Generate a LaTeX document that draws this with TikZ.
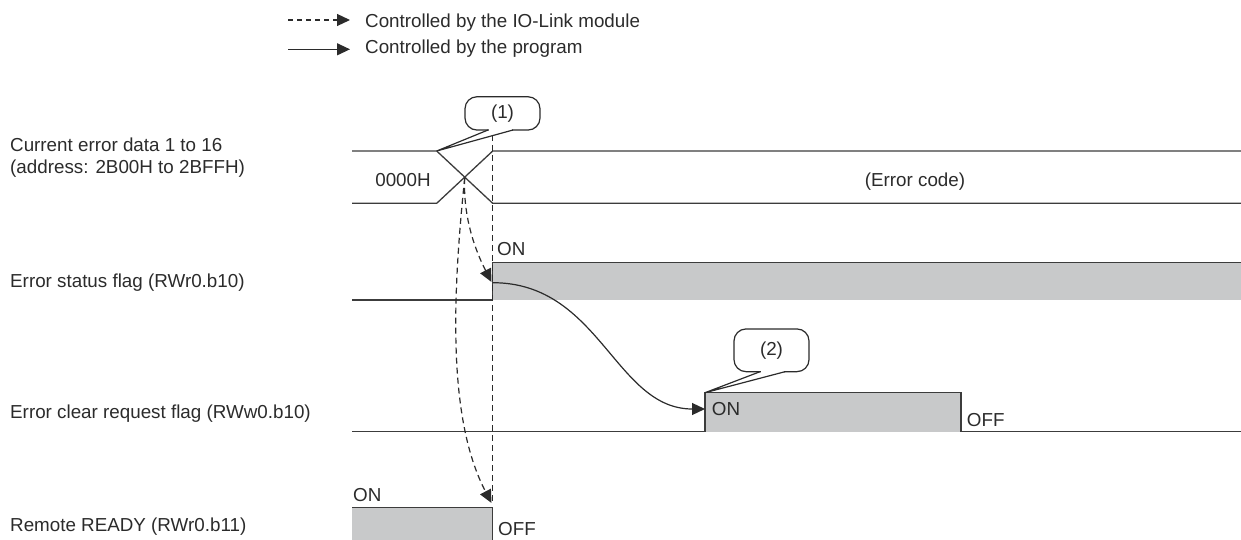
\documentclass[tikz,border=0pt]{standalone}
\usepackage{fontspec}
\setmainfont{Liberation Sans}
\usetikzlibrary{arrows.meta}
\definecolor{ink}{HTML}{2B2B2B}
\definecolor{lineink}{HTML}{3C3C3C}
\definecolor{hifill}{HTML}{C8C9CA}
\begin{document}
\begin{tikzpicture}[x=1pt,y=-1pt,
  txt/.style={font=\fontsize{18.8}{21.7}\selectfont, text=ink, inner sep=0pt},
  sig/.style={line width=1.3pt, draw=lineink},
  hi/.style={fill=hifill},
  tip/.style={-{Triangle[length=13pt,width=12pt]}},
  ctrl/.style={tip, draw=ink, dash pattern=on 6pt off 4pt, line width=1.2pt},
  prog/.style={tip, draw=ink, line width=1.2pt},
  refline/.style={draw=ink, dash pattern=on 6pt off 4pt, line width=1.2pt},
  callout/.style={draw=ink, line width=1.2pt, fill=white, rounded corners=12pt, inner sep=0pt, font=\fontsize{18.8}{21.7}\selectfont, text=ink}
]
\useasboundingbox (0,0) rectangle (1241,540);

% legend
\coordinate (l1a) at (288,20);
\coordinate (l1b) at (350,20);
\coordinate (l2a) at (288,49.3);
\coordinate (l2b) at (350,49.3);
\draw[ctrl, dash pattern=on 5pt off 4pt] (l1a) -- (l1b);
\draw[prog] (l2a) -- (l2b);
\node[txt, anchor=base west] (leg1) at (365,27.3) {Controlled by the IO-Link module};
\node[txt, anchor=base west] (leg2) at (365,54) {Controlled by the program};

% signal labels
\node[txt, anchor=base west, align=left] (lab1) at (10,173.3) {Current error data 1 to 16\\(address: 2B00H to 2BFFH)};
\node[txt, anchor=base west] (lab2) at (10,287.7) {Error status flag (RWr0.b10)};
\node[txt, anchor=base west] (lab3) at (10,418.3) {Error clear request flag (RWw0.b10)};
\node[txt, anchor=base west] (lab4) at (10,531) {Remote READY (RWr0.b11)};

% signal 1: current error data
\draw[sig] (352,151) -- (436.7,151) -- (492.7,203.3) -- (1241,203.3);
\draw[sig] (352,203.3) -- (436.7,203.3) -- (492.7,151) -- (1241,151);
\node[txt, anchor=base] (d0) at (403,186) {0000H};
\node[txt, anchor=base] (d1) at (915,186) {(Error code)};

% signal 2: error status flag
\fill[hi] (492.7,262.7) rectangle (1241,300);
\draw[sig] (352,300) -- (492.7,300) -- (492.7,262.7) -- (1241,262.7);
\node[txt, anchor=base west] (on2) at (497,255) {ON};

% signal 3: error clear request flag
\fill[hi] (705,392.7) rectangle (961,431.7);
\draw[sig] (352,431.7) -- (705,431.7) -- (705,392.7) -- (961,392.7) -- (961,431.7) -- (1241,431.7);
\node[txt, anchor=base west] (on3) at (711.7,415) {ON};
\node[txt, anchor=base west] (off3) at (966.7,426) {OFF};

% signal 4: remote ready
\fill[hi] (352,507.7) rectangle (492.7,541);
\draw[sig] (352,507.7) -- (492.7,507.7) -- (492.7,541);
\node[txt, anchor=base west] (on4) at (353,501.7) {ON};
\node[txt, anchor=base west] (off4) at (498,535) {OFF};

% reference line
\coordinate (rtop) at (492.7,135);
\coordinate (rbot) at (492.7,503);
\draw[refline] (rtop) -- (rbot);

% callouts
\node[callout, minimum width=75pt, minimum height=33.3pt] (c1) at (502.5,113.4) {(1)};
\coordinate (c1tip) at (436.7,151);
\draw[white, line width=2.4pt] (489,130) -- (512,130);
\draw[draw=ink, line width=1.2pt] (488,130) -- (c1tip) -- (513,130);

\node[callout, minimum width=75pt, minimum height=42.7pt] (c2) at (771.5,350.3) {(2)};
\coordinate (c2tip) at (705,392.7);
\draw[white, line width=2.4pt] (761,371.7) -- (784,371.7);
\draw[draw=ink, line width=1.2pt] (760,371.7) -- (c2tip) -- (785,371.7);

% control arrows
\coordinate (xing) at (464.7,178);
\coordinate (t2) at (491.5,282);
\coordinate (t4) at (491.5,503);
\draw[ctrl] (xing) .. controls (463,215) and (474,248) .. (t2);
\draw[ctrl] (xing) .. controls (452,300) and (448,420) .. (t4);

\coordinate (p0) at (492.7,282.7);
\coordinate (p1) at (705,409);
\draw[prog] (p0) .. controls (600,282.7) and (615,409) .. (p1);
\end{tikzpicture}
\end{document}
